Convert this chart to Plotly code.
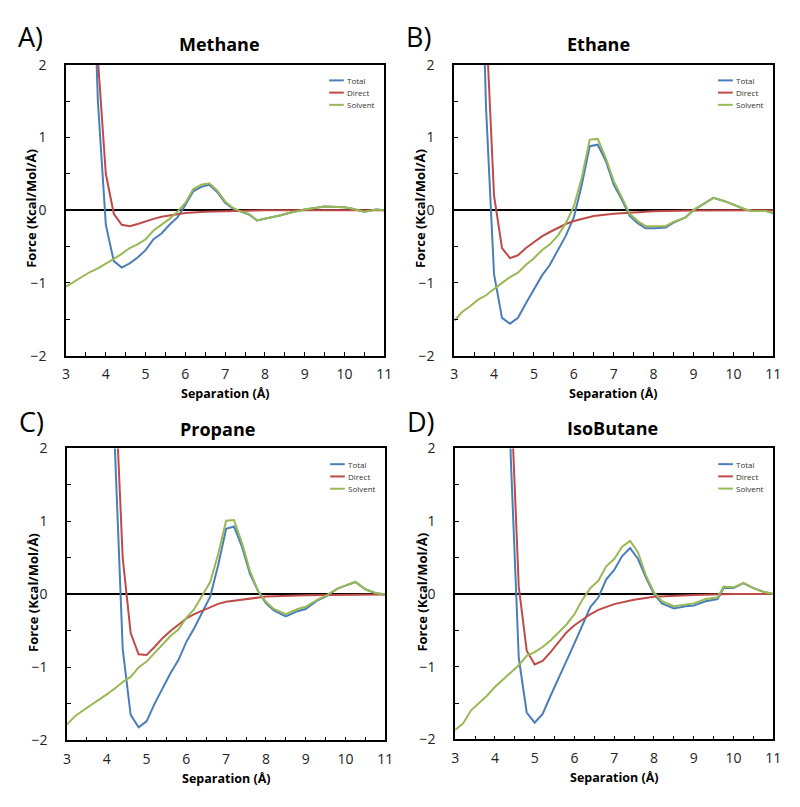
import plotly.graph_objects as go

# ---------------- data ----------------
panel_letters = ["A)", "B)", "C)", "D)"]
panel_titles = ["Methane", "Ethane", "Propane", "IsoButane"]
series_names = ["Total", "Direct", "Solvent"]
series_colors = ["#4A7EBB", "#BE4B48", "#98B954"]
x_ticks = [3, 4, 5, 6, 7, 8, 9, 10, 11]
y_ticks = [-2, -1, 0, 1, 2]

grid_a = [3.0, 3.2, 3.4, 3.6, 3.8, 4.0, 4.2, 4.4, 4.6, 4.8, 5.0, 5.2, 5.4, 5.6, 5.8,
          6.0, 6.2, 6.4, 6.6, 6.8, 7.0, 7.2]
tail_a = [7.4, 7.6, 7.8, 8.0, 8.2, 8.4, 8.6, 8.8, 9.0, 9.5, 10.0, 10.2, 10.5, 10.8, 11.0]

# Methane
a_total_x = [3.6, 3.8, 4.0, 4.2, 4.4, 4.6, 4.8, 5.0, 5.2, 5.4, 5.6, 5.8, 6.0, 6.2, 6.4, 6.6,
             6.8, 7.0, 7.2] + tail_a
a_total_y = [4.8, 1.5, -0.2, -0.7, -0.79, -0.73, -0.65, -0.55, -0.4, -0.32, -0.2, -0.1, 0.07,
             0.26, 0.32, 0.35, 0.25, 0.1, 0.02,
             -0.02, -0.06, -0.14, -0.12, -0.1, -0.07, -0.04, -0.01, 0.01, 0.05, 0.04, 0.02,
             -0.02, 0.01, 0.0]
a_direct_x = [3.6, 3.8, 4.0, 4.2, 4.4, 4.6, 4.8, 5.0, 5.2, 5.4, 5.6, 5.8, 6.0, 6.5, 7.0, 7.5,
              8.0, 9.0, 10.0, 11.0]
a_direct_y = [6.0, 2.08, 0.5, -0.05, -0.2, -0.22, -0.19, -0.15, -0.12, -0.09, -0.07, -0.05,
              -0.04, -0.02, -0.01, -0.005, 0.0, 0.0, 0.0, 0.0]
a_solvent_x = grid_a + tail_a
a_solvent_y = [-1.05, -0.98, -0.92, -0.85, -0.8, -0.74, -0.67, -0.6, -0.52, -0.47, -0.4, -0.28,
               -0.2, -0.12, -0.02, 0.1, 0.29, 0.35, 0.37, 0.27, 0.12, 0.03,
               -0.02, -0.05, -0.14, -0.12, -0.1, -0.07, -0.04, -0.01, 0.01, 0.05, 0.04, 0.02,
               -0.02, 0.01, 0.0]

# Ethane
grid_b = [3.0, 3.2, 3.4, 3.6, 3.8, 4.0, 4.2, 4.4, 4.6, 4.8, 5.0, 5.2, 5.4, 5.6, 5.8, 6.0,
          6.2, 6.4, 6.6, 6.8, 7.0, 7.2, 7.4, 7.6, 7.8]
tail_b = [8.0, 8.3, 8.5, 8.8, 9.0, 9.2, 9.5, 9.8, 10.0, 10.3, 10.5, 10.8, 11.0]
b_total_x = grid_b[3:] + tail_b
b_total_y = [5.4, 1.4, -0.88, -1.48, -1.56, -1.48, -1.28, -1.1, -0.9, -0.75, -0.55, -0.35,
             -0.1, 0.35, 0.88, 0.9, 0.68, 0.35, 0.15, -0.08, -0.18, -0.25,
             -0.25, -0.24, -0.17, -0.1, 0.0, 0.07, 0.17, 0.12, 0.08, 0.01, -0.01, -0.01, -0.04]
b_direct_x = [3.6, 3.8, 4.0, 4.2, 4.4, 4.6, 4.8, 5.0, 5.2, 5.4, 5.6, 5.8, 6.0, 6.5, 7.0, 7.5,
              8.0, 9.0, 10.0, 11.0]
b_direct_y = [6.0, 2.6, 0.2, -0.52, -0.66, -0.62, -0.52, -0.44, -0.36, -0.3, -0.24, -0.19,
              -0.15, -0.08, -0.05, -0.03, -0.015, -0.005, 0.0, 0.0]
b_solvent_x = grid_b + tail_b
b_solvent_y = [-1.52, -1.4, -1.32, -1.23, -1.17, -1.08, -1.0, -0.92, -0.86, -0.75, -0.66,
               -0.55, -0.47, -0.35, -0.18, 0.05, 0.45, 0.97, 0.98, 0.72, 0.4, 0.18, -0.05,
               -0.15, -0.22,
               -0.22, -0.22, -0.16, -0.1, 0.0, 0.07, 0.17, 0.12, 0.08, 0.01, -0.01, -0.01, -0.04]

# Propane
grid_c = grid_b
tail_c = [8.0, 8.2, 8.5, 8.8, 9.0, 9.3, 9.5, 9.8, 10.0, 10.25, 10.5, 10.75, 11.0]
c_total_x = grid_c[5:] + tail_c
c_total_y = [8.0, 2.05, -0.75, -1.65, -1.82, -1.74, -1.5, -1.28, -1.08, -0.9, -0.65, -0.46,
             -0.25, -0.03, 0.4, 0.9, 0.93, 0.65, 0.28, 0.05,
             -0.12, -0.22, -0.3, -0.23, -0.2, -0.08, -0.03, 0.08, 0.12, 0.17, 0.07, 0.02, 0.0]
c_direct_x = [4.0, 4.2, 4.4, 4.6, 4.8, 5.0, 5.2, 5.4, 5.6, 5.8, 6.0, 6.2, 6.4, 6.6, 6.8, 7.0,
              7.5, 8.0, 9.0, 10.0, 11.0]
c_direct_y = [8.0, 3.0, 0.5, -0.53, -0.82, -0.83, -0.72, -0.6, -0.5, -0.42, -0.33, -0.27,
              -0.22, -0.17, -0.13, -0.1, -0.06, -0.03, -0.01, 0.0, 0.0]
c_solvent_x = grid_c + tail_c
c_solvent_y = [-1.78, -1.67, -1.59, -1.52, -1.45, -1.37, -1.29, -1.2, -1.13, -1.0, -0.92,
               -0.8, -0.68, -0.57, -0.48, -0.32, -0.2, -0.02, 0.17, 0.55, 1.01, 1.02, 0.7,
               0.32, 0.05,
               -0.1, -0.2, -0.27, -0.2, -0.17, -0.07, -0.02, 0.08, 0.12, 0.17, 0.07, 0.02, 0.0]

# IsoButane
grid_d = grid_b
tail_d = [8.0, 8.2, 8.5, 8.8, 9.0, 9.3, 9.6, 9.75, 10.0, 10.25, 10.5, 10.75, 11.0]
d_total_x = grid_d[6:] + tail_d
d_total_y = [6.0, 1.86, -0.88, -1.63, -1.77, -1.65, -1.4, -1.15, -0.92, -0.68, -0.42, -0.18,
             -0.05, 0.2, 0.33, 0.52, 0.63, 0.48, 0.22,
             0.0, -0.13, -0.2, -0.17, -0.16, -0.1, -0.07, 0.08, 0.08, 0.15, 0.08, 0.03, 0.0]
d_direct_x = [4.2, 4.4, 4.6, 4.8, 5.0, 5.2, 5.4, 5.6, 5.8, 6.0, 6.2, 6.4, 6.6, 6.8, 7.0, 7.5,
              8.0, 9.0, 10.0, 11.0]
d_direct_y = [6.0, 2.8, 0.1, -0.78, -0.97, -0.92, -0.8, -0.66, -0.53, -0.43, -0.35, -0.28,
              -0.22, -0.18, -0.14, -0.08, -0.04, -0.015, 0.0, 0.0]
d_solvent_x = grid_d + tail_d
d_solvent_y = [-1.87, -1.78, -1.6, -1.5, -1.4, -1.28, -1.18, -1.08, -0.98, -0.85, -0.8,
               -0.73, -0.64, -0.53, -0.42, -0.28, -0.08, 0.08, 0.18, 0.38, 0.48, 0.65, 0.73,
               0.57, 0.25,
               0.02, -0.1, -0.17, -0.15, -0.13, -0.07, -0.05, 0.1, 0.09, 0.15, 0.08, 0.03, 0.0]

panels = [
    [(a_total_x, a_total_y), (a_direct_x, a_direct_y), (a_solvent_x, a_solvent_y)],
    [(b_total_x, b_total_y), (b_direct_x, b_direct_y), (b_solvent_x, b_solvent_y)],
    [(c_total_x, c_total_y), (c_direct_x, c_direct_y), (c_solvent_x, c_solvent_y)],
    [(d_total_x, d_total_y), (d_direct_x, d_direct_y), (d_solvent_x, d_solvent_y)],
]

# ---------------- layout ----------------
W, H = 800, 807
FONT = "Open Sans"
# plot areas in pixels: (left, right, top, bottom)
boxes = [(63, 386, 56, 354), (457, 781, 56, 354), (64, 387, 449, 748), (458, 781, 449, 747)]
letter_pos = [(27, 27), (421, 27), (28, 421), (423, 421)]
title_pos = [(219, 35), (604, 35), (217, 429), (618, 428)]
xtitle_y = [393, 393, 787, 786]
ytitle_x = [28, 423, 30, 424]

fig = go.Figure()
annotations = []
shapes = []

for i, series in enumerate(panels):
    n = "" if i == 0 else str(i + 1)
    xa, ya = "x" + n, "y" + n
    for j, (xs, ys) in enumerate(series):
        fig.add_trace(go.Scatter(x=xs, y=ys, mode="lines", name=series_names[j],
                                 line=dict(color=series_colors[j], width=2),
                                 xaxis=xa, yaxis=ya, showlegend=False))
    l, r, t, b = boxes[i]
    common = dict(showline=True, linecolor="black", linewidth=1.5, mirror=True,
                  showgrid=False, ticks="inside", ticklen=4, tickwidth=1.2, tickcolor="black",
                  tickfont=dict(family=FONT, size=14, color="#222"))
    fig.layout["xaxis" + n] = dict(common, domain=[l / W, r / W], anchor=ya, range=[3, 11],
                                   tickvals=x_ticks, zeroline=False,
                                   minor=dict(ticks="inside", dtick=0.5, ticklen=4,
                                              tickcolor="black", tickwidth=1.2),
                                   ticklabelstandoff=5)
    fig.layout["yaxis" + n] = dict(common, domain=[1 - b / H, 1 - t / H], anchor=xa,
                                   range=[-2, 2], tickvals=y_ticks, zeroline=True,
                                   zerolinecolor="black", zerolinewidth=1.6,
                                   minor=dict(ticks="inside", dtick=0.5, ticklen=4,
                                              tickcolor="black", tickwidth=1.2),
                                   ticklabelstandoff=15)
    cx = (l + r) / 2
    annotations.append(dict(text=panel_letters[i], x=letter_pos[i][0] / W,
                            y=1 - letter_pos[i][1] / H, xref="paper", yref="paper",
                            showarrow=False, font=dict(family=FONT, size=27, color="black"),
                            xanchor="center", yanchor="middle"))
    annotations.append(dict(text="<b>%s</b>" % panel_titles[i], x=title_pos[i][0] / W,
                            y=1 - title_pos[i][1] / H, xref="paper", yref="paper",
                            showarrow=False, font=dict(family=FONT, size=18, color="black"),
                            xanchor="center", yanchor="middle"))
    annotations.append(dict(text="<b>Separation (Å)</b>", x=cx / W, y=1 - xtitle_y[i] / H,
                            xref="paper", yref="paper", showarrow=False,
                            font=dict(family=FONT, size=12.5, color="black"),
                            xanchor="center", yanchor="middle"))
    annotations.append(dict(text="<b>Force (Kcal/Mol/Å)</b>", x=ytitle_x[i] / W,
                            y=1 - ((t + b) / 2 - 2) / H, xref="paper", yref="paper",
                            showarrow=False, textangle=-90,
                            font=dict(family=FONT, size=13, color="black"),
                            xanchor="center", yanchor="middle"))
    # in-plot legend
    xd, yd = xa + " domain", ya + " domain"
    for j, name in enumerate(series_names):
        yy = 0.946 - j * 0.042
        shapes.append(dict(type="line", xref=xd, yref=yd, x0=0.827, x1=0.873, y0=yy, y1=yy,
                           line=dict(color=series_colors[j], width=2)))
        annotations.append(dict(text=name, x=0.876, y=yy, xref=xd, yref=yd, showarrow=False,
                                xanchor="left", yanchor="middle",
                                font=dict(family=FONT, size=8, color="#333")))

fig.update_layout(width=W, height=H, margin=dict(l=0, r=0, t=0, b=0),
                  plot_bgcolor="white", paper_bgcolor="white",
                  annotations=annotations, shapes=shapes, showlegend=False)

fig.write_html("out.html", config={"displayModeBar": False},
               post_script="document.body.style.margin='0';document.documentElement.style.margin='0';document.body.style.overflow='hidden';")
